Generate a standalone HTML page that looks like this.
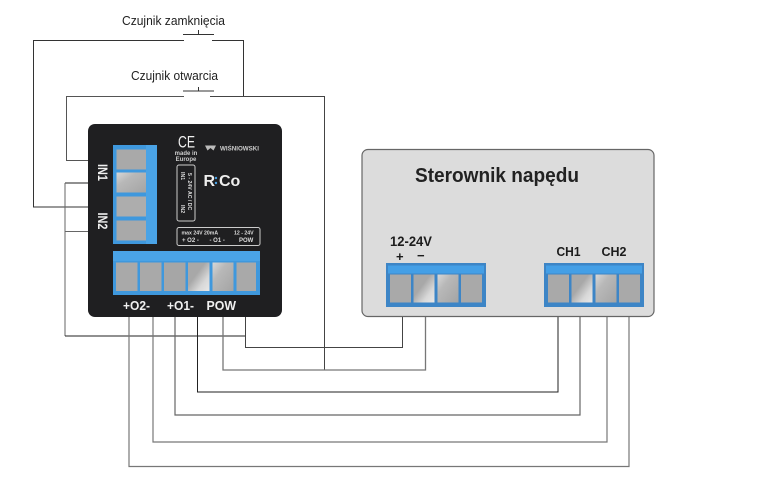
<!DOCTYPE html>
<html><head><meta charset="utf-8"><style>
html,body{margin:0;padding:0;background:#fff;width:783px;height:496px;overflow:hidden}
svg{display:block}
text{font-family:"Liberation Sans",sans-serif}
</style></head><body>
<svg width="783" height="496" viewBox="0 0 783 496" xmlns="http://www.w3.org/2000/svg">
<defs>
<linearGradient id="s1" x1="0" y1="0" x2="1" y2="1"><stop offset="0" stop-color="#a8a8a8"/><stop offset=".4" stop-color="#a8a8a8"/><stop offset=".72" stop-color="#d8d8d8"/><stop offset="1" stop-color="#e8e8e8"/></linearGradient>
<linearGradient id="s2" x1="0" y1="0" x2="1" y2="1"><stop offset="0" stop-color="#d8d8d8"/><stop offset=".35" stop-color="#b8b8b8"/><stop offset="1" stop-color="#a4a4a4"/></linearGradient>
</defs>
<g fill="none" stroke-width="1">
<!-- sensors -->
<g stroke="#333">
<path d="M183 34.5H214M198.5 30V34.5M183 91H214M198.5 87V91"/>
<path d="M184 40.5H33.5V207H89"/>
<path d="M212 40.5H243.5V97"/>
</g>
<path d="M184 96.5H66.5V160.5H89" stroke="#555"/>
<path d="M210 96.5H324.5V370" stroke="#444"/>
<!-- IN -->
<path d="M89 183H65" stroke="#222"/>
<path d="M65 183V336" stroke="#666"/>
<path d="M65 231.5H89" stroke="#666"/>
<path d="M65 336H245" stroke="#222"/>
<!-- bottom loops -->
<path d="M245.5 317V347.5H402.5V316" stroke="#444"/>
<path d="M223 317V370H425.5V316" stroke="#777" stroke-width="1.3"/>
<path d="M197.5 317V392H558V316" stroke="#222"/>
<path d="M175 317V415H580V316" stroke="#666" stroke-width="1.2"/>
<path d="M153 317V442H607V316" stroke="#777" stroke-width="1.2"/>
<path d="M129 317V466.5H629V316" stroke="#777" stroke-width="1.2"/>
</g>
<g fill="#222">
<text x="122" y="25" font-size="13" textLength="103" lengthAdjust="spacingAndGlyphs">Czujnik zamknięcia</text>
<text x="131" y="80" font-size="13" textLength="87" lengthAdjust="spacingAndGlyphs">Czujnik otwarcia</text>
</g>

<!-- board -->
<rect x="88" y="124" width="194" height="193" rx="7" fill="#1f1f21"/>
<!-- left terminal -->
<rect x="113" y="145" width="44" height="99" fill="#3f98dd"/>
<rect x="146" y="145" width="11" height="99" fill="#4aa3e6"/>
<rect x="116.5" y="149.5" width="29.5" height="20" fill="#a9a9a9"/>
<rect x="116.5" y="172.5" width="29.5" height="20" fill="url(#s2)"/>
<rect x="116.5" y="196.5" width="29.5" height="20" fill="#adadad"/>
<rect x="116.5" y="220.5" width="29.5" height="20" fill="#a9a9a9"/>
<!-- bottom terminal -->
<rect x="113" y="251" width="147" height="44" fill="#3f98dd"/>
<rect x="113" y="251" width="147" height="10" fill="#4aa3e6"/>
<rect x="116" y="262.5" width="21.5" height="28.5" fill="#a9a9a9"/>
<rect x="140" y="262.5" width="21.5" height="28.5" fill="#a9a9a9"/>
<rect x="164" y="262.5" width="21.5" height="28.5" fill="#a6a6a6"/>
<rect x="188" y="262.5" width="21.5" height="28.5" fill="url(#s1)"/>
<rect x="212.5" y="262.5" width="21" height="28.5" fill="url(#s2)"/>
<rect x="236.5" y="262.5" width="19.5" height="28.5" fill="#a9a9a9"/>
<!-- board text -->
<g fill="#f0f0f0" font-weight="bold">
<text x="123" y="310" font-size="13" textLength="27" lengthAdjust="spacingAndGlyphs">+O2-</text>
<text x="167" y="310" font-size="13" textLength="27" lengthAdjust="spacingAndGlyphs">+O1-</text>
<text x="206.5" y="310" font-size="13" textLength="29.5" lengthAdjust="spacingAndGlyphs">POW</text>
<text transform="translate(98,164) rotate(90)" font-size="14" textLength="17" lengthAdjust="spacingAndGlyphs">IN1</text>
<text transform="translate(98,212.5) rotate(90)" font-size="14" textLength="17" lengthAdjust="spacingAndGlyphs">IN2</text>
<text x="178" y="147.5" font-size="17" font-weight="normal" textLength="17" lengthAdjust="spacingAndGlyphs">CE</text>
<text x="186" y="155" font-size="6" text-anchor="middle" fill="#ccc">made in</text>
<text x="186" y="161" font-size="6" text-anchor="middle" fill="#ccc">Europe</text>
<text x="220" y="150.5" font-size="6.2" fill="#ccc" textLength="39" lengthAdjust="spacingAndGlyphs">WIŚNIOWSKI</text>
<text x="203.5" y="186" font-size="16" fill="#eee">R</text>
<text x="219" y="186" font-size="16" fill="#eee">Co</text>
</g>
<path d="M205 145.5L216 145.5L213.5 150.5L210.5 148L207.5 150.5Z" fill="#bbb"/>
<circle cx="216" cy="178" r="1.2" fill="#4aa3e6"/><circle cx="216" cy="183" r="1.2" fill="#4aa3e6"/>
<rect x="177" y="165" width="18" height="56" rx="2" fill="none" stroke="#ccc" stroke-width="1"/>
<rect x="177" y="227.5" width="83" height="18" rx="2" fill="none" stroke="#ccc" stroke-width="1"/>
<g fill="#ddd" font-weight="bold" font-size="5.2">
<text transform="translate(181,172) rotate(90)">IN1</text>
<text transform="translate(181,205) rotate(90)">IN2</text>
<text transform="translate(188,173) rotate(90)">5 - 24V AC / DC</text>
<text x="181.5" y="234.5">max 24V 20mA</text>
<text x="234" y="234.5">12 - 24V</text>
<text x="182" y="242" font-size="6">+ O2 -</text>
<text x="209.5" y="242" font-size="6">- O1 -</text>
<text x="239" y="242" font-size="6">POW</text>
</g>

<!-- controller -->
<rect x="362" y="149.5" width="292" height="167" rx="6" fill="#dcdcdc" stroke="#666" stroke-width="1.2"/>
<text x="415" y="182" font-size="20.5" font-weight="bold" fill="#222" textLength="164" lengthAdjust="spacingAndGlyphs">Sterownik napędu</text>
<g fill="#1c1c1c" font-weight="bold">
<text x="390" y="246" font-size="14" textLength="42" lengthAdjust="spacingAndGlyphs">12-24V</text>
<text x="396" y="261" font-size="13">+</text>
<text x="417" y="260" font-size="13">−</text>
<text x="556.5" y="256" font-size="13" textLength="24" lengthAdjust="spacingAndGlyphs">CH1</text>
<text x="601.5" y="256" font-size="13" textLength="25" lengthAdjust="spacingAndGlyphs">CH2</text>
</g>
<g>
<rect x="386" y="263" width="100" height="44" fill="#3d85c6"/>
<rect x="388" y="265.5" width="96" height="8" fill="#449fe6"/>
<rect x="390" y="274.5" width="21" height="28" fill="#a9a9a9"/>
<rect x="413.5" y="274.5" width="21" height="28" fill="url(#s1)"/>
<rect x="437.5" y="274.5" width="21" height="28" fill="url(#s2)"/>
<rect x="461" y="274.5" width="21" height="28" fill="#a9a9a9"/>
</g>
<g>
<rect x="544" y="263" width="100" height="44" fill="#3d85c6"/>
<rect x="546" y="265.5" width="96" height="8" fill="#449fe6"/>
<rect x="548" y="274.5" width="21" height="28" fill="#a9a9a9"/>
<rect x="571.5" y="274.5" width="21" height="28" fill="url(#s1)"/>
<rect x="595.5" y="274.5" width="21" height="28" fill="url(#s2)"/>
<rect x="619" y="274.5" width="21" height="28" fill="#a9a9a9"/>
</g>
</svg>
</body></html>
